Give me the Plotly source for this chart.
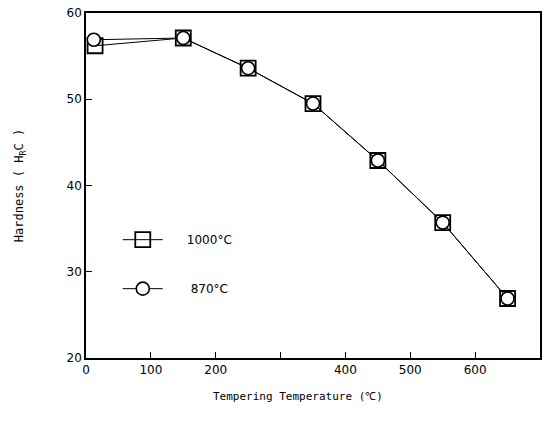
import plotly.graph_objects as go

temps = [14, 150, 250, 350, 450, 550, 650]
hard_1000 = [56.2, 57.1, 53.6, 49.5, 42.9, 35.7, 26.9]
temps_870 = [12, 150, 250, 350, 450, 550, 650]
hard_870 = [56.9, 57.1, 53.6, 49.5, 42.9, 35.7, 26.9]
x_tickvals = [0, 100, 200, 400, 500, 600]
x_ticktext = ["0", "100", "200", "400", "500", "600"]
y_tickvals = [20, 30, 40, 50, 60]

font_family = "DejaVu Sans, Liberation Sans, sans-serif"
mono = "DejaVu Sans Mono, monospace"
pad = "\u00a0" * 5

fig = go.Figure()
fig.add_trace(go.Scatter(
    x=temps, y=hard_1000, mode="lines+markers", name=pad + "1000°C",
    legendgroup="a",
    line=dict(color="black", width=1),
    marker=dict(symbol="square-open", size=15, color="black",
                line=dict(width=1.8, color="black")),
))
fig.add_trace(go.Scatter(
    x=temps_870, y=hard_870, mode="lines+markers", name=pad + " 870°C",
    legendgroup="b",
    line=dict(color="black", width=1),
    marker=dict(symbol="circle", size=13, color="white",
                line=dict(width=1.6, color="black")),
))

fig.update_layout(
    width=548, height=436,
    margin=dict(l=86, r=6, t=7, b=78),
    paper_bgcolor="white", plot_bgcolor="white",
    font=dict(family=font_family, size=12, color="black"),
    showlegend=True,
    legend=dict(x=0.07, y=0.385, xanchor="left", yanchor="top",
                bgcolor="rgba(0,0,0,0)", tracegroupgap=30,
                traceorder="grouped", itemwidth=40,
                font=dict(size=12, family=font_family)),
    annotations=[dict(
        text="Tempering Temperature (℃)", xref="paper", yref="paper",
        x=0.467, y=-0.113, xanchor="center", yanchor="middle",
        showarrow=False, font=dict(size=11, family=mono),
    )],
)
fig.update_xaxes(
    range=[0, 700], tickvals=x_tickvals, ticktext=x_ticktext,
    ticks="inside", ticklen=6, tickwidth=1.2, tickcolor="black",
    minor=dict(ticks="inside", tick0=0, dtick=100, ticklen=6,
               tickwidth=1.2, tickcolor="black", showgrid=False),
    showgrid=False, zeroline=False,
    showline=True, linecolor="black", linewidth=1.5, mirror=True,
    tickfont=dict(size=12, family=font_family),
)
fig.update_yaxes(
    range=[20, 60], tickvals=y_tickvals,
    ticks="inside", ticklen=6, tickwidth=1.2, tickcolor="black",
    showgrid=False, zeroline=False,
    showline=True, linecolor="black", linewidth=1.5, mirror=True,
    tickfont=dict(size=12, family=font_family),
    title=dict(text="Hardness ( H<sub>R</sub>C )", standoff=40,
               font=dict(size=12, family=mono)),
)

fig.write_html("out.html")
